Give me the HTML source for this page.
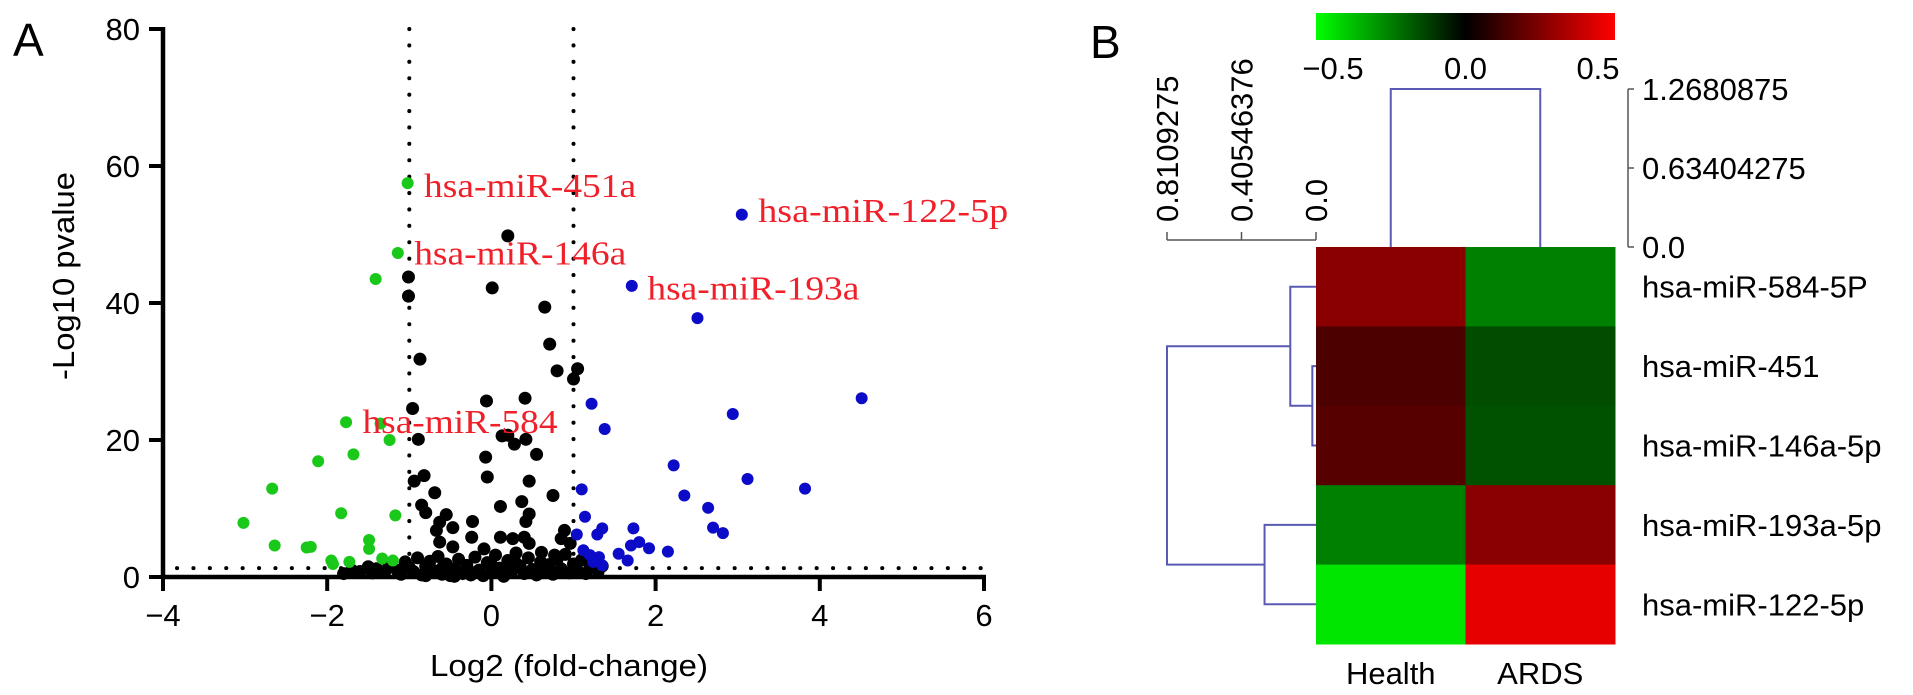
<!DOCTYPE html>
<html><head><meta charset="utf-8"><style>
html,body{margin:0;padding:0;background:#fff;}
svg{display:block;font-family:"Liberation Sans",Arial,sans-serif;}
</style></head><body>
<svg id="fig" width="1913" height="695" viewBox="0 0 1913 695" xmlns="http://www.w3.org/2000/svg">
<g id="pa"></g>
<g id="pb"></g>
</svg>
<script>
// ---------- Volcano data ----------
const greenX=[-1.02,-1.14,-1.41,-1.77,-1.35,-1.24,-1.68,-2.11,-2.67,-3.02,-1.83,-1.17,-2.64,-2.25,-2.2,-1.49,-1.49,-1.95,-1.93,-1.33,-1.2,-1.73];
const greenY=[57.5,47.3,43.5,22.6,22.4,20.0,17.9,16.9,12.9,7.9,9.3,9.0,4.6,4.3,4.4,5.4,4.1,2.4,1.9,2.7,2.4,2.2];
const blueX=[3.05,1.71,2.51,1.22,1.38,4.51,2.94,2.22,3.12,3.82,2.35,2.64,2.7,2.82,1.1,1.14,1.35,1.73,1.29,1.04,1.55,1.7,1.8,1.92,2.15,1.66,1.12,1.2,1.31,1.24,1.35];
const blueY=[52.9,42.5,37.8,25.3,21.6,26.1,23.8,16.3,14.3,12.9,11.9,10.1,7.2,6.4,12.8,8.8,7.1,7.1,6.2,6.2,3.4,4.6,5.1,4.2,3.7,2.4,3.9,3.2,2.9,2.2,1.7];
const blackX=[0.2,0.01,-1.01,-1.01,0.65,0.71,-0.87,0.8,1.05,1.0,-0.06,0.41,-0.96,-0.89,0.13,0.2,0.28,0.42,-0.07,0.55,-0.05,0.46,-0.82,-0.94,-0.69,0.75,0.11,0.37,-0.85,-0.8,0.46,0.42,-0.55,-0.63,-0.23,-0.47,-0.67,-0.24,-0.63,0.11,0.26,0.4,0.89,0.85,0.96,-0.47,-0.09,0.46,0.61,0.77,
-1.8,-1.7,-1.6,-1.5,-1.45,-1.4,-1.3,-1.25,-1.15,-1.1,-1.05,-1.0,-0.95,-0.9,-0.85,-0.8,-0.75,-0.7,-0.65,-0.6,-0.55,-0.5,-0.45,-0.4,-0.35,-0.3,-0.25,-0.2,-0.15,-0.1,-0.05,0.0,0.05,0.1,0.15,0.2,0.25,0.3,0.35,0.4,0.45,0.5,0.55,0.6,0.65,0.7,0.75,0.8,0.85,0.9,0.95,1.0,1.05,1.1,1.15,1.2,1.3,1.35,-0.6,-0.3,0.0,0.3,-0.8,0.6,-0.45,0.15];
const blackY=[49.8,42.2,43.8,41.0,39.4,34.0,31.8,30.1,30.4,28.9,25.7,26.1,24.6,20.1,20.6,20.7,19.4,20.1,17.5,17.9,14.6,14.0,14.8,14.0,12.3,11.9,10.3,11.0,10.5,9.4,9.2,8.1,9.1,8.0,8.1,7.2,6.8,5.8,5.1,5.8,5.6,5.8,6.8,5.6,4.9,4.4,4.1,4.9,3.6,3.2,
0.5,1.0,0.8,1.5,0.6,1.2,0.7,1.8,1.0,0.4,2.2,1.4,0.8,2.8,0.3,1.6,2.3,0.9,3.0,0.4,1.9,0.2,1.2,2.6,0.5,1.7,0.3,2.9,1.0,0.2,2.1,0.7,3.2,1.3,0.4,2.4,0.9,3.5,1.6,0.5,2.8,1.1,0.3,2.2,0.8,1.8,0.4,2.6,1.2,3.3,0.6,1.9,0.9,2.5,0.5,1.4,0.8,1.6,1.3,0.9,1.8,2.0,0.2,0.6,0.1,0.1];
const xTicks=[-4,-2,0,2,4,6];
const xTickLabels=["\u22124","\u22122","0","2","4","6"];
const yTicks=[0,20,40,60,80];
const yTickLabels=["0","20","40","60","80"];
const labelNames=["hsa-miR-451a","hsa-miR-146a","hsa-miR-193a","hsa-miR-122-5p","hsa-miR-584"];
const labelX=[-0.82,-0.94,1.9,3.25,-1.57];
const labelY=[55.5,45.6,40.5,51.8,21.0];
const labelLen=[212,212,212,250,195];
const foldCut=[-1,1];
const pCut=1.3;

// ---------- Heatmap data ----------
const rowNames=["hsa-miR-584-5P","hsa-miR-451","hsa-miR-146a-5p","hsa-miR-193a-5p","hsa-miR-122-5p"];
const colNames=["Health","ARDS"];
const healthVals=[0.27,0.15,0.17,-0.25,-0.45];
const ardsVals=[-0.25,-0.15,-0.16,0.27,0.45];
const cbTicks=[-0.5,0,0.5];
const cbTickLabels=["\u22120.5","0.0","0.5"];
const colTreeTicks=[0,0.63404275,1.2680875];
const colTreeLabels=["0.0","0.63404275","1.2680875"];
const colMergeHeight=1.2680875;
const rowTreeTicks=[0,0.40546376,0.8109275];
const rowTreeLabels=["0.0","0.40546376","0.8109275"];
const rowMerges=[[1,2,0.02],[0,5,0.14],[3,4,0.28],[6,7,0.8109275]];

const NS="http://www.w3.org/2000/svg";
function mk(parent,tag,attrs,text){const e=document.createElementNS(NS,tag);for(const k in attrs)e.setAttribute(k,attrs[k]);if(text!==undefined)e.textContent=text;parent.appendChild(e);return e;}

// ---------- Panel A ----------
const pa=document.getElementById('pa');
const X0=163,X1=984,Y0=577,Y1=29;
const sx=v=>X0+(v-(-4))/(10)*(X1-X0);
const sy=v=>Y0-(v/80)*(Y0-Y1);
let t=mk(pa,'text',{x:13,y:56,'font-size':46},'A');


foldCut.forEach(v=>{const l=mk(pa,'line',{x1:sx(v),x2:sx(v),y1:Y1,y2:Y0,stroke:'#000','stroke-width':4,'stroke-linecap':'round','stroke-dasharray':'0.1 16.3'});

});
let hl=mk(pa,'line',{x1:X0+14,x2:X1,y1:sy(pCut),y2:sy(pCut),stroke:'#000','stroke-width':4,'stroke-linecap':'round','stroke-dasharray':'0.1 16.3'});


function pts(xs,ys,col,r,name){xs.forEach((v,i)=>{const c=mk(pa,'circle',{cx:sx(v),cy:sy(ys[i]),r:r,fill:col});

});}
pts(blackX,blackY,'#000',6.5,'point-nonsignificant');
pts(greenX,greenY,'#19c819',6,'point-down');
pts(blueX,blueY,'#0b0bc8',6,'point-up');
labelNames.forEach((n,i)=>{const e=mk(pa,'text',{x:sx(labelX[i]),y:sy(labelY[i]),'font-size':34,fill:'#f0202a','font-family':'"Liberation Serif",serif',textLength:labelLen[i],lengthAdjust:'spacingAndGlyphs'},n);

});
let ax=mk(pa,'line',{x1:X0,x2:X1+2,y1:Y0,y2:Y0,stroke:'#000','stroke-width':4.5});


let ay=mk(pa,'line',{x1:X0,x2:X0,y1:Y1-2,y2:Y0+2,stroke:'#000','stroke-width':4.5});


xTicks.forEach((v,i)=>{mk(pa,'line',{x1:sx(v),x2:sx(v),y1:Y0,y2:Y0+14,stroke:'#000','stroke-width':4});
const e=mk(pa,'text',{x:sx(v),y:626,'font-size':31,'text-anchor':'middle'},xTickLabels[i]);

});
yTicks.forEach((v,i)=>{mk(pa,'line',{x1:X0-14,x2:X0,y1:sy(v),y2:sy(v),stroke:'#000','stroke-width':4});
const e=mk(pa,'text',{x:140,y:sy(v)+11,'font-size':31,'text-anchor':'end'},yTickLabels[i]);

});
let xt=mk(pa,'text',{x:569,y:676,'font-size':31,'text-anchor':'middle',textLength:278,lengthAdjust:'spacingAndGlyphs'},'Log2 (fold-change)');


let yt=mk(pa,'text',{x:0,y:0,'font-size':31,'text-anchor':'middle',transform:'translate(74,276) rotate(-90)',textLength:208,lengthAdjust:'spacingAndGlyphs'},'-Log10 pvalue');



// ---------- Panel B ----------
const pb=document.getElementById('pb');
const HL=1316,HR=1615,HT=247,RH=79.4,CW=(HR-HL)/2;
const DEN='#5a5ab4';
function col(v){const a=Math.min(1,Math.abs(v)/0.5);const c=Math.round(255*a);return v>=0?`rgb(${c},0,0)`:`rgb(0,${c},0)`;}
let bl=mk(pb,'text',{x:1090,y:58,'font-size':46},'B');


const grad=mk(pb,'linearGradient',{id:'cbg',x1:0,x2:1,y1:0,y2:0});
[[0,'#00ff00'],[0.5,'#000'],[1,'#ff0000']].forEach(s=>mk(grad,'stop',{offset:s[0],'stop-color':s[1]}));
let cb=mk(pb,'rect',{x:HL,y:13,width:HR-HL,height:27,fill:'url(#cbg)'});


const cbx=v=>HL+17+(v+0.5)/1*(HR-HL-34);
cbTicks.forEach((v,i)=>{const e=mk(pb,'text',{x:cbx(v),y:79,'font-size':31,'text-anchor':'middle'},cbTickLabels[i]);

});
const vals=[healthVals,ardsVals];
vals.forEach((arr,ci)=>arr.forEach((v,ri)=>{const r=mk(pb,'rect',{x:HL+ci*CW,y:HT+ri*RH,width:CW+0.5,height:RH+0.5,fill:col(v)});

}));
rowNames.forEach((n,i)=>{const e=mk(pb,'text',{x:1642,y:HT+(i+0.5)*RH+11,'font-size':31},n);

});
colNames.forEach((n,i)=>{const e=mk(pb,'text',{x:HL+(i+0.5)*CW,y:684,'font-size':31,'text-anchor':'middle'},n);

});
const CT0=HT,CT1=89;
const cty=v=>CT0-(v/1.2680875)*(CT0-CT1);
let cd=mk(pb,'path',{d:`M${HL+CW/2},${HT} V${cty(colMergeHeight)} H${HL+1.5*CW} V${HT}`,stroke:DEN,'stroke-width':2,fill:'none'});


mk(pb,'line',{x1:1628,x2:1628,y1:cty(colTreeTicks[2]),y2:cty(0),stroke:'#555','stroke-width':1.5});
colTreeTicks.forEach((v,i)=>{mk(pb,'line',{x1:1628,x2:1634,y1:cty(v),y2:cty(v),stroke:'#555','stroke-width':1.5});
const e=mk(pb,'text',{x:1642,y:cty(v)+11,'font-size':31},colTreeLabels[i]);

});
const rtx=v=>HL-(v/0.8109275)*(HL-1167);
mk(pb,'line',{x1:rtx(rowTreeTicks[2]),x2:rtx(0),y1:240,y2:240,stroke:'#555','stroke-width':1.5});
rowTreeTicks.forEach((v,i)=>{mk(pb,'line',{x1:rtx(v),x2:rtx(v),y1:232,y2:240,stroke:'#555','stroke-width':1.5});
const e=mk(pb,'text',{x:0,y:0,'font-size':31,'text-anchor':'start',transform:`translate(${rtx(v)+11},222) rotate(-90)`},rowTreeLabels[i]);

});
const nodeY=rowNames.map((_,i)=>HT+(i+0.5)*RH);
const nodeX=rowNames.map(()=>HL);
rowMerges.forEach(m=>{const [a,b,h]=m;const x=rtx(h);
const p=mk(pb,'path',{d:`M${nodeX[a]},${nodeY[a]} H${x} V${nodeY[b]} H${nodeX[b]}`,stroke:DEN,'stroke-width':2,fill:'none'});


nodeY.push((nodeY[a]+nodeY[b])/2);nodeX.push(x);});
</script>
</body></html>
